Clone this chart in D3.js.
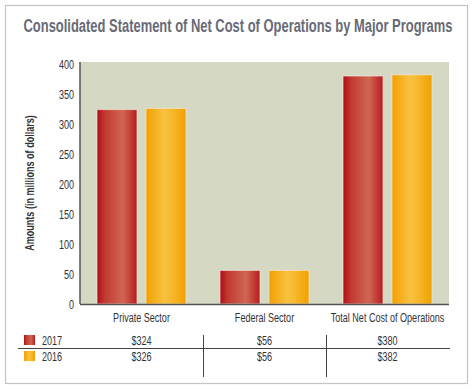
<!DOCTYPE html>
<html>
<head>
<meta charset="utf-8">
<script src="https://cdn.jsdelivr.net/npm/d3@7"></script>
<style>
  body { margin: 0; background: #fff; }
  svg text { font-family: "Liberation Sans", Arial, sans-serif; }
</style>
</head>
<body>
<div id="my_chart"></div>
<script>
// data
var categories = ["Private Sector", "Federal Sector", "Total Net Cost of Operations"];
var years = ["2017", "2016"];
var values2017 = [324, 56, 380];
var values2016 = [326, 56, 382];
var yTicks = [0, 50, 100, 150, 200, 250, 300, 350, 400];

var W = 476, H = 389;
var margin = {top: 62, right: 27, bottom: 85, left: 80},
    width = W - margin.left - margin.right,
    height = H - margin.top - margin.bottom;

var svg = d3.select("#my_chart")
  .append("svg")
    .attr("width", W)
    .attr("height", H);

// gradients for the bars
var defs = svg.append("defs");
var gradStops = {
  "2017": [["0%", "#b10d17"], ["20%", "#c23a32"], ["65%", "#cf6752"], ["100%", "#b81a1e"]],
  "2016": [["0%", "#f2a000"], ["45%", "#f8c140"], ["60%", "#f7bb33"], ["100%", "#f2a100"]]
};
years.forEach(function(yr) {
  var gr = defs.append("linearGradient").attr("id", "g" + yr)
    .attr("x1", "0%").attr("x2", "100%").attr("y1", "0%").attr("y2", "0%");
  gradStops[yr].forEach(function(s) {
    gr.append("stop").attr("offset", s[0]).attr("stop-color", s[1]);
  });
});

// outer frame
svg.append("rect")
  .attr("x", 5.5).attr("y", 5.5)
  .attr("width", 462).attr("height", 378)
  .attr("fill", "none")
  .attr("stroke", "#c4c4c4")
  .attr("stroke-width", 1.2);

// title
svg.append("text")
  .attr("class", "title")
  .attr("x", 238).attr("y", 32)
  .attr("text-anchor", "middle")
  .style("font-size", "19px")
  .style("font-weight", "bold")
  .attr("fill", "#696a77")
  .text("Consolidated Statement of Net Cost of Operations by Major Programs");

var g = svg.append("g")
  .attr("transform", "translate(" + margin.left + "," + margin.top + ")");

// scales
var x = d3.scaleBand().domain(categories).range([0, width]);
var xInner = d3.scaleBand().domain(years).range([0, 98]);
var y = d3.scaleLinear().domain([0, 400]).range([height, 2]);

// plot background
g.append("rect")
  .attr("x", 0).attr("y", 0)
  .attr("width", width).attr("height", height)
  .attr("fill", "#d5d9c4");

// bars
var rows = categories.map(function(c, i) {
  return {cat: c, vals: [values2017[i], values2016[i]]};
});
var groups = g.selectAll(".grp")
  .data(rows)
  .enter().append("g")
    .attr("transform", function(d) { return "translate(" + (x(d.cat) + x.bandwidth() / 2 - 44.5) + ",0)"; });

groups.selectAll("rect")
  .data(function(d) { return d.vals.map(function(v, j) { return {yr: years[j], v: v}; }); })
  .enter().append("rect")
    .attr("x", function(d) { return xInner(d.yr); })
    .attr("y", function(d) { return y(d.v); })
    .attr("width", 40)
    .attr("height", function(d) { return y(0) - y(d.v); })
    .attr("fill", function(d) { return "url(#g" + d.yr + ")"; })
    .attr("stroke", "#f3e6da")
    .attr("stroke-opacity", 0.7)
    .attr("stroke-width", 1);

// Y axis
var yAxis = g.append("g")
  .call(d3.axisLeft(y).tickValues(yTicks).tickSize(0).tickPadding(6));
yAxis.select(".domain").remove();
yAxis.selectAll("text").style("font-size", "13.5px").attr("fill", "#333");
g.append("line")
  .attr("x1", 0).attr("x2", 0)
  .attr("y1", 0).attr("y2", height)
  .attr("stroke", "#555").attr("stroke-width", 1.5);

// X axis line
g.append("line")
  .attr("x1", 0).attr("x2", width)
  .attr("y1", height + 0.5).attr("y2", height + 0.5)
  .attr("stroke", "#555").attr("stroke-width", 1.5);

// category labels
g.selectAll(".cat")
  .data(categories)
  .enter().append("text")
    .attr("x", function(d) { return x(d) + x.bandwidth() / 2; })
    .attr("y", height + 18)
    .attr("text-anchor", "middle")
    .style("font-size", "13.5px")
    .attr("fill", "#333")
    .text(function(d) { return d; });

// Y label
svg.append("text")
  .attr("transform", "translate(34," + (margin.top + height / 2) + ")rotate(-90)")
  .attr("text-anchor", "middle")
  .style("font-size", "13.5px")
  .style("font-weight", "bold")
  .attr("fill", "#333")
  .text("Amounts (in millions of dollars)");

// data table
var tableRows = [values2017, values2016];
var rowY = [345, 361];
tableRows.forEach(function(vals, r) {
  svg.append("rect")
    .attr("x", 24).attr("y", rowY[r] - 10)
    .attr("width", 11).attr("height", 10)
    .attr("fill", "url(#g" + years[r] + ")");
  svg.append("text")
    .attr("x", 42).attr("y", rowY[r])
    .style("font-size", "13.5px")
    .attr("fill", "#333")
    .text(years[r]);
  svg.selectAll(".v" + r)
    .data(vals)
    .enter().append("text")
      .attr("x", function(d, i) { return margin.left + x(categories[i]) + x.bandwidth() / 2; })
      .attr("y", rowY[r])
      .attr("text-anchor", "middle")
      .style("font-size", "13.5px")
      .attr("fill", "#333")
      .text(function(d) { return "$" + d; });
});

svg.append("line")
  .attr("x1", 18).attr("x2", 450)
  .attr("y1", 348.5).attr("y2", 348.5)
  .attr("stroke", "#444").attr("stroke-width", 1);

[1, 2].forEach(function(i) {
  var xx = Math.round(margin.left + x(categories[i])) + 0.5;
  svg.append("line")
    .attr("x1", xx).attr("x2", xx)
    .attr("y1", 335).attr("y2", 377)
    .attr("stroke", "#444").attr("stroke-width", 1);
});

// squeeze all text horizontally to mimic the condensed face
svg.selectAll("text").each(function() {
  var len = this.getComputedTextLength();
  var k = this.getAttribute("class") === "title" ? 429 / len : 0.67;
  var tx = +this.getAttribute("x") || 0, ty = +this.getAttribute("y") || 0;
  var dy = this.getAttribute("dy");
  var pre = this.getAttribute("transform") || "";
  this.setAttribute("x", 0);
  this.setAttribute("y", 0);
  this.setAttribute("transform", pre + " translate(" + tx + "," + ty + ") scale(" + k + ",1)");
});
</script>
</body>
</html>
